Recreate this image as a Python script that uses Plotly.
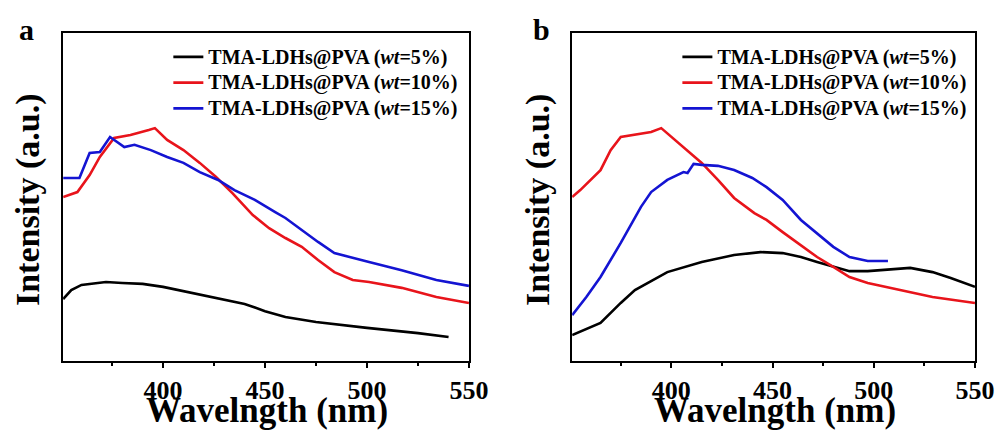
import plotly.graph_objects as go

# ---------------- data (intensity in arbitrary units) ----------------
a_black_x = [351, 355, 360, 372, 380, 390, 400, 410, 425, 440, 450, 460, 475, 490, 500, 525, 540]
a_black_y = [18.9, 21.6, 23.2, 24.1, 23.8, 23.5, 22.6, 21.3, 19.5, 17.4, 15.2, 13.4, 11.9, 10.7, 10.1, 8.5, 7.3]

a_red_x = [351, 358, 364, 369, 376, 384, 393, 396, 402, 410, 418, 426, 434, 444, 452, 460, 468, 476, 484, 493, 501, 517, 534, 550]
a_red_y = [50.0, 51.5, 56.7, 62.2, 68.0, 68.9, 70.4, 71.0, 67.4, 64.3, 60.4, 56.1, 51.2, 44.5, 40.5, 37.5, 34.8, 30.8, 27.1, 24.7, 24.1, 22.3, 19.5, 17.7]

a_blue_x = [351, 359, 364, 369, 374, 381, 386, 394, 402, 410, 418, 427, 435, 445, 455, 460, 476, 484, 501, 517, 534, 550]
a_blue_y = [55.8, 55.8, 63.4, 63.7, 68.3, 65.2, 65.9, 64.3, 62.2, 60.4, 57.6, 55.2, 52.1, 49.1, 45.4, 43.6, 36.3, 32.9, 30.2, 27.7, 24.7, 22.9]

b_black_x = [351, 365, 375, 382, 398, 415, 431, 444, 455, 464, 472, 480, 488, 497, 505, 518, 529, 538, 550]
b_black_y = [7.9, 11.6, 17.7, 21.6, 27.1, 30.2, 32.3, 33.2, 32.9, 31.7, 30.2, 28.7, 27.4, 27.4, 27.7, 28.4, 27.1, 25.3, 22.6]

b_red_x = [351, 355, 365, 370, 375, 382, 390, 395, 406, 415, 423, 431, 441, 447, 455, 464, 472, 480, 488, 497, 513, 529, 550]
b_red_y = [50.0, 52.1, 58.2, 64.3, 68.3, 68.9, 69.8, 71.0, 65.2, 60.4, 55.2, 49.7, 45.1, 43.0, 39.3, 35.4, 31.7, 28.7, 25.6, 23.8, 21.6, 19.5, 17.7]

b_blue_x = [351, 358, 365, 375, 385, 390, 398, 406, 408, 411, 415, 423, 431, 440, 447, 455, 464, 472, 480, 488, 497, 507]
b_blue_y = [14.0, 19.5, 25.6, 36.0, 47.0, 51.5, 55.2, 57.6, 57.3, 60.1, 59.8, 59.5, 58.2, 55.8, 53.0, 49.1, 43.0, 39.0, 34.8, 31.7, 30.5, 30.5]

names = ["TMA-LDHs@PVA (<i>wt</i>=5%)", "TMA-LDHs@PVA (<i>wt</i>=10%)", "TMA-LDHs@PVA (<i>wt</i>=15%)"]
colors = ["#000000", "#e8141b", "#1414d2"]
x_ticks = [400, 450, 500, 550]

FONT = "Liberation Serif"

fig = go.Figure()
panels = [
    ("x", "y", "legend", [(a_black_x, a_black_y), (a_red_x, a_red_y), (a_blue_x, a_blue_y)]),
    ("x2", "y2", "legend2", [(b_black_x, b_black_y), (b_red_x, b_red_y), (b_blue_x, b_blue_y)]),
]
for xa, ya, lg, series in panels:
    for (xs, ys), nm, c in zip(series, names, colors):
        fig.add_trace(go.Scatter(x=xs, y=ys, mode="lines",
                                 name='<span style="font-size:20px">' + nm + "</span>",
                                 xaxis=xa, yaxis=ya, legend=lg,
                                 line=dict(color=c, width=2.6)))

W, H = 997, 432
WX = 975  # horizontal extent as the figure comes out in the photograph
def px(x): return x / WX
def py(y): return 1 - y / H

axis_common = dict(showgrid=False, zeroline=False, showline=True, linecolor="black",
                   linewidth=2, mirror=True)
xcommon = dict(axis_common, range=[351, 550], tickvals=x_ticks, ticks="outside", ticklen=5,
               tickwidth=2, tickcolor="black",
               minor=dict(ticks="outside", ticklen=3, tickwidth=2, tickcolor="black",
                          tickvals=[375, 425, 475, 525]),
               tickfont=dict(family=FONT, size=26, color="black", weight="bold"))
ycommon = dict(axis_common, range=[0, 100], showticklabels=False, ticks="")

leg_font = dict(family=FONT, size=17.5, color="black", weight="bold")
fig.update_layout(
    width=W, height=H, autosize=False, margin=dict(l=0, r=0, t=0, b=0),
    plot_bgcolor="white", paper_bgcolor="white",
    xaxis=dict(xcommon, domain=[px(63), px(468)], anchor="y"),
    yaxis=dict(ycommon, domain=[py(361), py(33)], anchor="x"),
    xaxis2=dict(xcommon, domain=[px(571), px(973)], anchor="y2"),
    yaxis2=dict(ycommon, domain=[py(361), py(33)], anchor="x2"),
    legend=dict(x=px(168), y=py(39), xanchor="left", yanchor="top", bgcolor="rgba(0,0,0,0)",
                font=leg_font, tracegroupgap=0, itemwidth=30),
    legend2=dict(x=px(676), y=py(39), xanchor="left", yanchor="top", bgcolor="rgba(0,0,0,0)",
                 font=leg_font, tracegroupgap=0, itemwidth=30),
    showlegend=True,
)

ann_font = dict(family=FONT, color="black", weight="bold")
annotations = [
    dict(text="a", x=px(26), y=py(30), font=dict(ann_font, size=30)),
    dict(text="b", x=px(540), y=py(30), font=dict(ann_font, size=30)),
    dict(text="Wavelngth (nm)", x=px(266), y=py(410), font=dict(ann_font, size=35)),
    dict(text="Wavelngth (nm)", x=px(773), y=py(410), font=dict(ann_font, size=35)),
    dict(text="Intensity (a.u.)", x=px(28), y=py(200), textangle=-90, font=dict(ann_font, size=34)),
    dict(text="Intensity (a.u.)", x=px(537), y=py(200), textangle=-90, font=dict(ann_font, size=34)),
]
for a in annotations:
    a.update(xref="paper", yref="paper", showarrow=False, xanchor="center", yanchor="middle")
fig.update_layout(annotations=annotations)

fig.write_html("out.html", config={"displayModeBar": False, "responsive": False},
               post_script="document.body.style.margin='0';document.body.style.overflow='hidden';")
